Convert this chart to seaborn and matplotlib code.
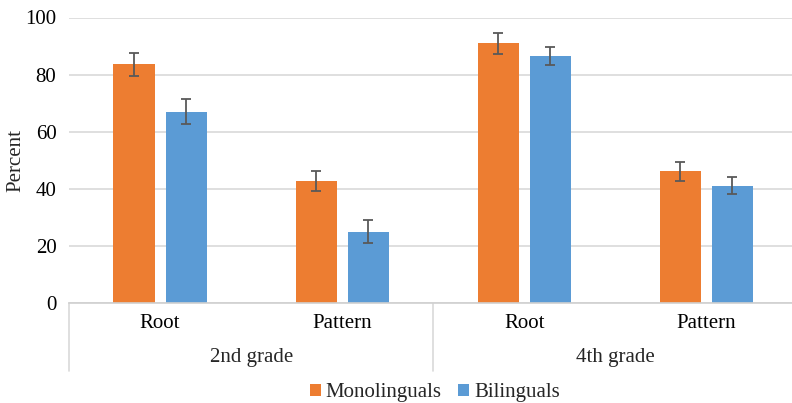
import pandas as pd
import seaborn as sns
import matplotlib.pyplot as plt
from matplotlib.transforms import blended_transform_factory

# values
grades = ['2nd grade', '2nd grade', '4th grade', '4th grade']
tasks = ['Root', 'Pattern', 'Root', 'Pattern']
mono = [83.6, 42.7, 90.9, 46.2]
mono_err = [4.0, 3.6, 3.6, 3.3]
bili = [67.0, 24.9, 86.4, 41.1]
bili_err = [4.4, 4.0, 3.2, 3.0]
groups = ['Monolinguals', 'Bilinguals']
colors = ['#ED7D31', '#5B9BD5']

conds = [g + ' ' + t for g, t in zip(grades, tasks)]
df = pd.DataFrame({
    'cond': conds * 2,
    'group': [groups[0]] * 4 + [groups[1]] * 4,
    'pct': mono + bili,
    'err': mono_err + bili_err,
})

sns.set_theme(style='white')
plt.rcParams['font.family'] = ['Liberation Serif', 'DejaVu Serif']
fs = 15

fig = plt.figure(figsize=(7.92, 4.03), dpi=100)
ax = fig.add_axes([69 / 792, 100 / 403, 728.5 / 792, 285.5 / 403])

sns.barplot(data=df, x='cond', y='pct', hue='group', palette=colors,
            width=0.572, gap=0.21, errorbar=None, saturation=1,
            edgecolor='none', ax=ax)

# error bars at the bar centres
for cont, g in zip(ax.containers, groups):
    errs = df.loc[df['group'] == g, 'err'].to_list()
    vals = df.loc[df['group'] == g, 'pct'].to_list()
    xs = [b.get_x() + b.get_width() / 2 for b in cont]
    ax.errorbar(xs, vals, yerr=errs, fmt='none', ecolor='#595959',
                elinewidth=1.3, capsize=3.3, capthick=1.3, zorder=5)

ax.set_ylim(0, 100)
ax.set_xlim(-0.5, 3.5)
ax.set_yticks(range(0, 101, 20))
ax.yaxis.grid(True, color='#d9d9d9', linewidth=1.2)
ax.set_axisbelow(True)
for s in ['top', 'right', 'left']:
    ax.spines[s].set_visible(False)
ax.spines['bottom'].set_color('#d0d0d0')
ax.spines['bottom'].set_linewidth(1.2)
ax.tick_params(axis='y', length=0, pad=9, labelsize=fs, colors='black')
ax.tick_params(axis='x', length=0, pad=8, labelsize=fs, colors='black')
ax.set_xticks(range(4))
ax.set_xticklabels(tasks)
ax.set_xlabel('')
ax.set_ylabel('')
fig.text(16 / 792, 243 / 403, 'Percent', rotation=90, ha='center',
         va='center', fontsize=fs)

# second level of the category axis
tr = blended_transform_factory(ax.transData, ax.transAxes)
for x in [-0.5, 1.5, 3.5]:
    ax.plot([x, x], [0, -0.238], transform=tr, color='#d9d9d9',
            linewidth=1.2, clip_on=False)
for x, lab in [(0.5, '2nd grade'), (2.5, '4th grade')]:
    ax.text(x, -0.19, lab, transform=tr, ha='center', va='center',
            fontsize=fs)

handles, labels = ax.get_legend_handles_labels()
ax.get_legend().remove()
fig.legend(handles, labels, loc='center', bbox_to_anchor=(435 / 792, 10 / 403),
           ncol=2, frameon=False, fontsize=fs, handlelength=0.5,
           handleheight=0.5, handletextpad=0.25, columnspacing=0.8)

fig.savefig('out.png', dpi=100)
